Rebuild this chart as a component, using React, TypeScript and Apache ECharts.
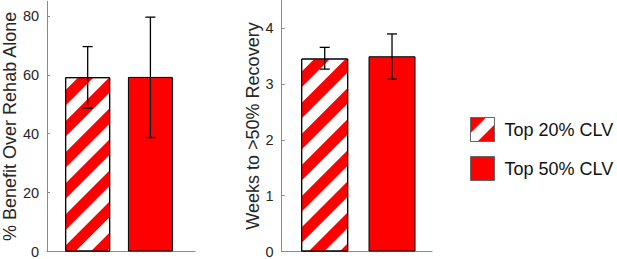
import React, { useEffect, useRef } from 'react';
import * as echarts from 'echarts';

const groups = ['Top 20% CLV', 'Top 50% CLV'];
const barX = [1, 2];
const benefitValues = [59.2, 59.3];
const benefitLow = [48.7, 38.7];
const benefitHigh = [69.6, 79.6];
const weeksValues = [3.46, 3.5];
const weeksLow = [3.27, 3.09];
const weeksHigh = [3.66, 3.9];
const benefitTicks = [0, 20, 40, 60, 80];
const weeksTicks = [0, 1, 2, 3, 4];

const FONT = '"Liberation Sans", Arial, Helvetica, sans-serif';
const AXIS_GRAY = '#8a8a8a';
const TEXT = '#262626';
const RED = '#ff0000';

const stripeDecal = {
  symbol: 'rect',
  symbolSize: 1,
  dashArrayX: [1, 0],
  dashArrayY: [10.6, 10.6],
  rotation: -Math.PI / 4,
  color: RED,
};

function yAxis(gridIndex: number, max: number, interval: number, ticks: number[], name: string, nameGap: number) {
  return {
    type: 'value',
    gridIndex,
    min: 0,
    max,
    interval,
    name,
    nameLocation: 'middle',
    nameRotate: 90,
    nameGap,
    nameTextStyle: { fontSize: 18, color: TEXT, fontFamily: FONT },
    axisLine: { show: true, lineStyle: { color: AXIS_GRAY, width: 1 } },
    axisTick: { show: true, inside: true, length: 3, lineStyle: { color: AXIS_GRAY }, customValues: ticks },
    axisLabel: { color: TEXT, fontSize: 14.5, fontFamily: FONT, margin: 8, customValues: ticks },
    splitLine: { show: false },
  };
}

function xAxis(gridIndex: number, min: number, max: number) {
  return {
    type: 'value',
    gridIndex,
    min,
    max,
    axisLine: { show: true, onZero: false, lineStyle: { color: AXIS_GRAY, width: 1.2 } },
    axisTick: { show: false },
    axisLabel: { show: false },
    splitLine: { show: false },
  };
}

function seriesFor(gridIndex: number, values: number[], lows: number[], highs: number[], barWidth: number) {
  return [
    {
      type: 'bar',
      name: groups[0],
      xAxisIndex: gridIndex,
      yAxisIndex: gridIndex,
      barWidth,
      barGap: '-100%',
      data: [[barX[0], values[0]]],
      itemStyle: { color: '#ffffff', borderColor: '#000', borderWidth: 1, decal: stripeDecal },
    },
    {
      type: 'bar',
      name: groups[1],
      xAxisIndex: gridIndex,
      yAxisIndex: gridIndex,
      barWidth,
      barGap: '-100%',
      data: [[barX[1], values[1]]],
      itemStyle: { color: RED, borderColor: '#000', borderWidth: 1 },
    },
    {
      type: 'custom',
      xAxisIndex: gridIndex,
      yAxisIndex: gridIndex,
      z: 10,
      encode: { x: 0, y: [1, 2] },
      data: barX.map((x, i) => [x, lows[i], highs[i]]),
      renderItem: (_params: any, api: any) => {
        const x = api.value(0);
        const top = api.coord([x, api.value(2)]);
        const bot = api.coord([x, api.value(1)]);
        const half = 5;
        const style = { stroke: '#000', lineWidth: 1.3 };
        return {
          type: 'group',
          children: [
            { type: 'line', shape: { x1: top[0], y1: top[1], x2: bot[0], y2: bot[1] }, style },
            { type: 'line', shape: { x1: top[0] - half, y1: top[1], x2: top[0] + half, y2: top[1] }, style },
            { type: 'line', shape: { x1: bot[0] - half, y1: bot[1], x2: bot[0] + half, y2: bot[1] }, style },
          ],
        };
      },
    },
  ];
}

export default function App() {
  const ref = useRef<HTMLDivElement>(null);
  useEffect(() => {
    if (!ref.current) return;
    const chart = echarts.init(ref.current, undefined, { renderer: 'svg' });
    chart.setOption({
      animation: false,
      backgroundColor: '#ffffff',
      textStyle: { fontFamily: FONT },
      grid: [
        { left: 44, top: 1.25, width: 151, height: 250.75 },
        { left: 281.7, top: 0.5, width: 150.3, height: 251.2 },
      ],
      xAxis: [xAxis(0, 0.3516, 2.711), xAxis(1, 0.361, 2.594)],
      yAxis: [
        yAxis(0, 85, 20, benefitTicks, '% Benefit Over Rehab Alone', 28),
        yAxis(1, 4.5, 1, weeksTicks, 'Weeks to >50% Recovery', 19),
      ],
      legend: {
        data: groups,
        orient: 'vertical',
        left: 470,
        top: 117,
        padding: 0,
        itemWidth: 24,
        itemHeight: 24,
        itemGap: 14,
        icon: 'rect',
        itemStyle: { borderColor: '#666', borderWidth: 1 },
        textStyle: { fontSize: 18, color: '#111', fontFamily: FONT, padding: [0, 0, 0, 5] },
      },
      series: [
        ...seriesFor(0, benefitValues, benefitLow, benefitHigh, 45),
        ...seriesFor(1, weeksValues, weeksLow, weeksHigh, 47),
      ],
    });
    return () => chart.dispose();
  }, []);
  return <div ref={ref} style={{ position: 'fixed', left: 0, top: 0, width: 617, height: 259 }} />;
}
